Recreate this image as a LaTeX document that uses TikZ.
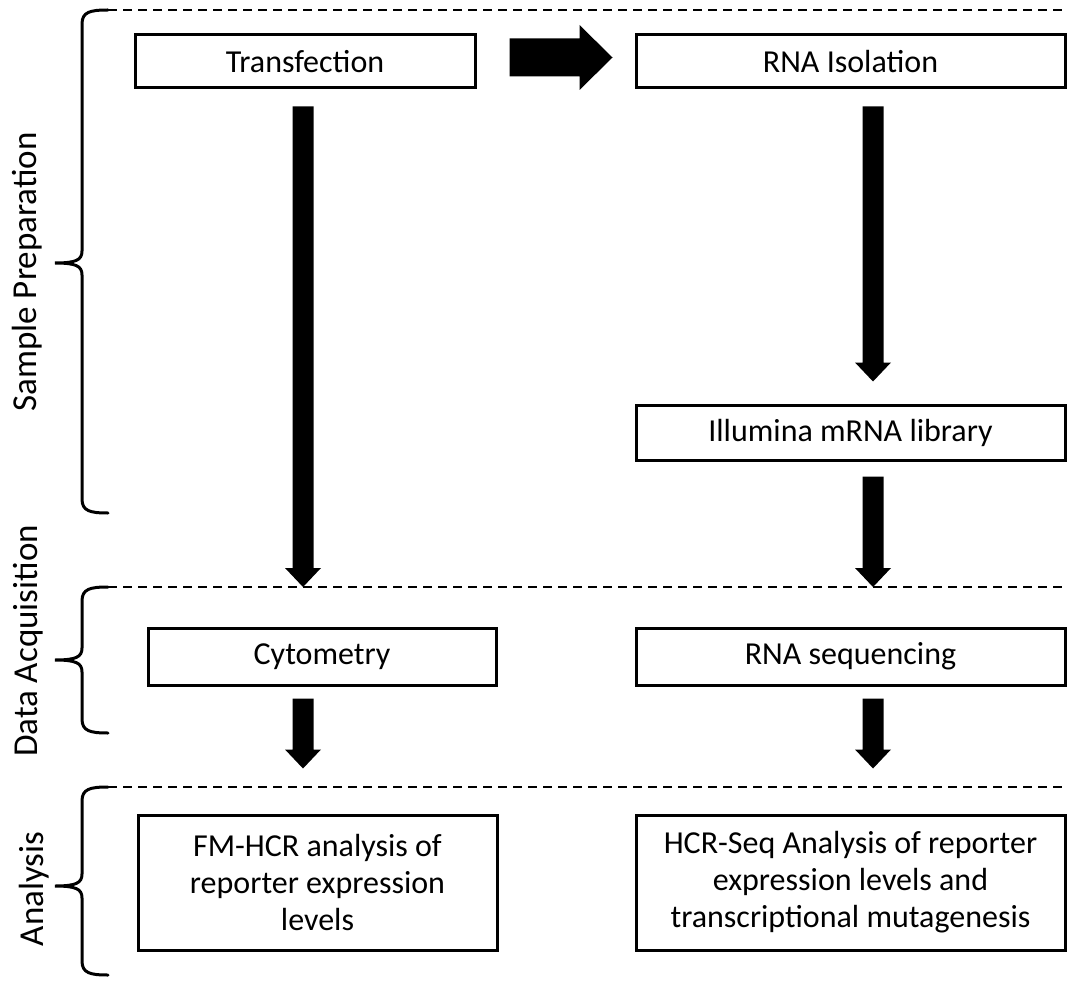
\documentclass[tikz,border=0pt]{standalone}
\usepackage{fontspec}
\setmainfont{Carlito}
\usetikzlibrary{calc}
\newcommand{\fatdown}[2]{%
  \fill[black] ($(#1)+(-10.5,0)$) -- ($(#2)+(-10.5,-19)$) -- ($(#2)+(-18,-19)$) -- (#2)
    -- ($(#2)+(18,-19)$) -- ($(#2)+(10.5,-19)$) -- ($(#1)+(10.5,0)$) -- cycle;}
\newcommand{\fatright}[2]{%
  \fill[black] ($(#1)+(0,-19)$) -- ($(#2)+(-33,-19)$) -- ($(#2)+(-33,-32.5)$) -- (#2)
    -- ($(#2)+(-33,32.5)$) -- ($(#2)+(-33,19)$) -- ($(#1)+(0,19)$) -- cycle;}
\newcommand{\sidebrace}[3]{%
  \draw[bracestyle] (108,#1) .. controls (90,#1) and (82,{#1+2}) .. (82,{#1+14})
    -- (82,{#2-12}) .. controls (82,{#2-3}) and (76,#2) .. (55,#2)
    .. controls (76,#2) and (82,{#2+3}) .. (82,{#2+12})
    -- (82,{#3-14}) .. controls (82,{#3-2}) and (90,#3) .. (108,#3);}
\begin{document}
\begin{tikzpicture}[x=1pt,y=-1pt,
  box/.style={draw, line width=3pt, inner sep=0pt, align=center,
    font=\fontsize{32}{37}\selectfont},
  divider/.style={line width=1.5pt, dash pattern=on 9pt off 6pt},
  bracestyle/.style={line width=3pt, line cap=round},
  sidelabel/.style={rotate=90, anchor=base, font=\fontsize{35}{40}\selectfont}]
\useasboundingbox (0,0) rectangle (1068,984);
\fill[white] (0,0) rectangle (1068,984);

% dividers
\coordinate (d1) at (108,10);
\coordinate (d2) at (108,587);
\coordinate (d3) at (108,787);
\coordinate (rEdge) at (1068,0);
\draw[divider] (d1) -- (d1 -| rEdge);
\draw[divider] (d2) -- (d2 -| rEdge);
\draw[divider] (d3) -- (d3 -| rEdge);

% braces
\sidebrace{10}{263}{513}
\sidebrace{587}{660}{733}
\sidebrace{787}{886}{975}

% side labels
\node[sidelabel] (lsp) at (36,272) {Sample Preparation};
\node[sidelabel] (lda) at (37,641) {Data Acquisition};
\node[sidelabel] (lan) at (43,889) {Analysis};

% boxes
\node[box, minimum width=340pt, minimum height=53pt] (trans) at (305,61.5) {Transfection};
\node[box, minimum width=429pt, minimum height=53pt] (rna) at (850.5,61.5) {RNA Isolation};
\node[box, minimum width=429pt, minimum height=55pt] (illum) at (850.5,432.5) {Illumina mRNA library};
\node[box, minimum width=348pt, minimum height=57pt] (cyto) at (322,656.5) {Cytometry};
\node[box, minimum width=429pt, minimum height=57pt] (rnaseq) at (850.5,656.5) {RNA sequencing};
\node[box, minimum width=359pt, minimum height=135pt] (fm) at (317.5,882.5)
  {FM-HCR analysis of\\reporter expression\\levels};
\node[box, minimum width=429pt, minimum height=135pt] (hcr) at (850.5,882.5)
  {HCR-Seq Analysis of reporter\\expression levels and\\transcriptional mutagenesis};

% arrow columns
\coordinate (colL) at (303,0);
\coordinate (colR) at (873,0);

\path (trans.east) ++(33,-4) coordinate (h1s);
\path (rna.west) ++(-22,-4) coordinate (h1e);
\fatright{h1s}{h1e}

\path (trans.south -| colL) ++(0,17) coordinate (a1s);
\path (colL |- d2) coordinate (a1e);
\fatdown{a1s}{a1e}

\path (rna.south -| colR) ++(0,17) coordinate (a2s);
\path (illum.north -| colR) ++(0,-22) coordinate (a2e);
\fatdown{a2s}{a2e}

\path (illum.south -| colR) ++(0,15) coordinate (a3s);
\path (colR |- d2) coordinate (a3e);
\fatdown{a3s}{a3e}

\path (cyto.south -| colL) ++(0,12) coordinate (a4s);
\path (fm.north -| colL) ++(0,-45) coordinate (a4e);
\fatdown{a4s}{a4e}

\path (rnaseq.south -| colR) ++(0,12) coordinate (a5s);
\path (hcr.north -| colR) ++(0,-45) coordinate (a5e);
\fatdown{a5s}{a5e}
\end{tikzpicture}
\end{document}
